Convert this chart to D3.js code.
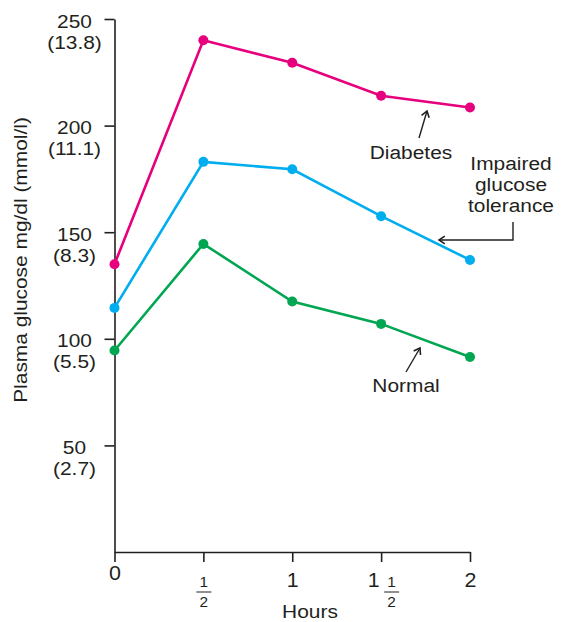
<!DOCTYPE html>
<html><head><meta charset="utf-8">
<script src="https://cdn.jsdelivr.net/npm/d3@7/dist/d3.min.js"></script>
<style>body{margin:0;background:#fff}svg{display:block}text{font-family:"Liberation Sans",Arial,Helvetica,sans-serif;fill:#231f20}</style>
</head><body>
<script>
const hours = [0, 0.5, 1, 1.5, 2];
const diabetes = [135, 240, 229.5, 214, 208.5];
const impaired = [114.5, 183, 179.5, 157.5, 137];
const normal = [94.5, 144.5, 117.5, 107, 91.5];
const yTicks = [50, 100, 150, 200, 250];
const yTickMmol = ["(2.7)", "(5.5)", "(8.3)", "(11.1)", "(13.8)"];
const xTickLabels = [["0"], ["", "1", "2"], ["1"], ["1", "1", "2"], ["2"]];

const W = 561, H = 622;
const SX = 1.1;
const svg = d3.select("body").append("svg").attr("width", W).attr("height", H);
const x = d3.scaleLinear().domain([0, 2]).range([114.5, 470]);
const y = d3.scaleLinear().domain([0, 250]).range([552, 19]);

function txt(parent, tx, ty, s, size, rot) {
  return parent.append("text")
    .attr("transform", `translate(${tx},${ty})${rot ? " rotate(" + rot + ")" : ""} scale(${SX},1)`)
    .attr("text-anchor", "middle").style("font-size", size + "px").text(s);
}

// Y axis
const ya = svg.append("g").attr("transform", "translate(114.5,0)")
  .call(d3.axisLeft(y).tickValues(yTicks).tickSize(10).tickSizeOuter(0).tickFormat(""));
ya.select(".domain").attr("stroke", "#231f20").attr("stroke-width", 1.6);
ya.selectAll(".tick line").attr("stroke", "#231f20").attr("stroke-width", 1.6);
ya.selectAll(".tick").each(function(d, i) {
  const g = d3.select(this);
  txt(g, -40, 8, d, 19);
  txt(g, -40, 29, yTickMmol[i], 19);
});

// X axis
const xa = svg.append("g").attr("transform", "translate(0,552)")
  .call(d3.axisBottom(x).tickValues(hours).tickSize(10).tickSizeOuter(0).tickFormat(""));
xa.select(".domain").attr("stroke", "#231f20").attr("stroke-width", 1.6);
xa.selectAll(".tick line").attr("stroke", "#231f20").attr("stroke-width", 1.6);
xa.selectAll(".tick").each(function(d, i) {
  const g = d3.select(this);
  const lab = xTickLabels[i];
  if (lab.length === 1) {
    txt(g, 0, i === 0 ? 28 : 35, lab[0], 19.5);
  } else {
    const off = lab[0] === "" ? 0 : 10;
    if (lab[0] !== "") txt(g, -8, 35, lab[0], 19.5);
    txt(g, off, 35, lab[1], 14);
    g.append("line").attr("x1", off - 7.5).attr("x2", off + 7.5).attr("y1", 40).attr("y2", 40)
      .attr("stroke", "#231f20").attr("stroke-width", 1);
    txt(g, off, 55, lab[2], 14);
  }
});
txt(svg, 310, 618, "Hours", 19);
txt(svg, 27, 260, "Plasma glucose mg/dl (mmol/l)", 19, -90);

// Series
const series = [
  {vals: normal, color: "#00a651"},
  {vals: impaired, color: "#00aeef"},
  {vals: diabetes, color: "#e6007e"}
];
const line = d3.line().x((d, i) => x(hours[i])).y(d => y(d));
series.forEach(s => {
  svg.append("path").datum(s.vals).attr("d", line).attr("fill", "none")
    .attr("stroke", s.color).attr("stroke-width", 2.6);
  svg.selectAll(null).data(s.vals).enter().append("circle")
    .attr("cx", (d, i) => x(hours[i])).attr("cy", d => y(d)).attr("r", 5)
    .attr("fill", s.color);
});

// Annotations
function chevron(tx, ty, angle) {
  const len = 7, spread = 0.6;
  const a1 = angle + Math.PI - spread, a2 = angle + Math.PI + spread;
  svg.append("path").attr("d",
    `M${tx + len * Math.cos(a1)},${ty + len * Math.sin(a1)}L${tx},${ty}L${tx + len * Math.cos(a2)},${ty + len * Math.sin(a2)}`)
    .attr("fill", "none").attr("stroke", "#231f20").attr("stroke-width", 1.6);
}
function arrow(x1, y1, x2, y2) {
  svg.append("line").attr("x1", x1).attr("y1", y1).attr("x2", x2).attr("y2", y2)
    .attr("stroke", "#231f20").attr("stroke-width", 1.4);
  chevron(x2, y2, Math.atan2(y2 - y1, x2 - x1));
}
arrow(419, 138, 427, 111);
txt(svg, 411, 159, "Diabetes", 19);

svg.append("path").attr("d", "M513,222V240H439").attr("fill", "none")
  .attr("stroke", "#231f20").attr("stroke-width", 1.4);
chevron(439, 240, Math.PI);
["Impaired", "glucose", "tolerance"].forEach((t, i) => {
  txt(svg, 511, 170 + i * 21, t, 19);
});

arrow(406, 372, 420, 348);
txt(svg, 406, 392, "Normal", 19);
</script>
</body></html>
